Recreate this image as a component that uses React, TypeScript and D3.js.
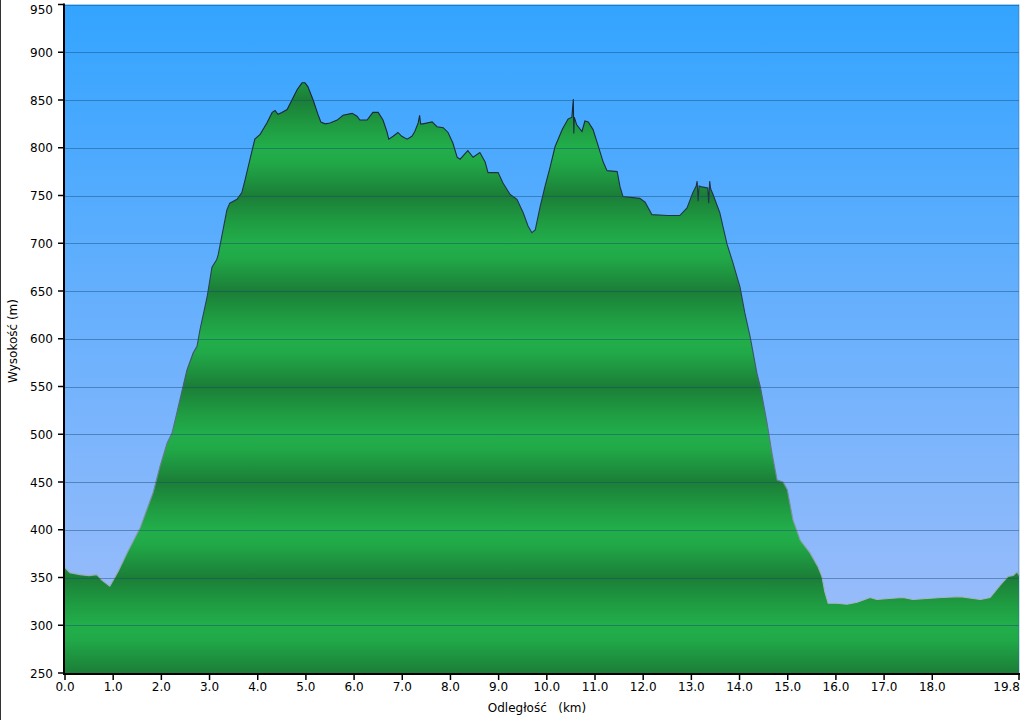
import React from "react";
import * as d3 from "d3";

// distance (km) and elevation (m) read from the profile
const distanceKm = [
  0.0, 0.1, 0.31, 0.5, 0.66, 0.77, 0.93, 1.1, 1.29, 1.56, 1.83, 1.97, 2.12, 2.22, 2.32, 2.45, 2.53,
  2.66, 2.74, 2.8, 2.95, 3.05, 3.15, 3.18, 3.28, 3.36, 3.42, 3.57, 3.67, 3.74, 3.84, 3.94, 4.05,
  4.19, 4.3, 4.36, 4.42, 4.5, 4.61, 4.71, 4.82, 4.92, 4.98, 5.04, 5.15, 5.25, 5.31, 5.4, 5.5,
  5.65, 5.77, 5.96, 6.06, 6.12, 6.27, 6.39, 6.5, 6.6, 6.68, 6.72, 6.81, 6.91, 6.99, 7.1, 7.2,
  7.26, 7.33, 7.36, 7.38, 7.43, 7.62, 7.72, 7.85, 7.95, 8.05, 8.14, 8.2, 8.36, 8.47, 8.61, 8.72,
  8.78, 8.99, 9.09, 9.24, 9.38, 9.51, 9.61, 9.69, 9.76, 9.86, 9.96, 10.07, 10.17, 10.32, 10.44,
  10.52, 10.55, 10.56, 10.57, 10.62, 10.73, 10.79, 10.86, 10.96, 11.06, 11.17, 11.25, 11.46,
  11.52, 11.58, 11.93, 12.04, 12.18, 12.5, 12.76, 12.91, 13.03, 13.1, 13.12, 13.14, 13.16, 13.22,
  13.34, 13.36, 13.38, 13.4, 13.45, 13.59, 13.74, 13.86, 14.01, 14.11, 14.22, 14.36, 14.43,
  14.57, 14.67, 14.78, 14.9, 14.99, 15.11, 15.26, 15.46, 15.63, 15.71, 15.77, 15.84, 16.02,
  16.23, 16.44, 16.71, 16.85, 17.1, 17.39, 17.6, 17.89, 18.2, 18.58, 18.85, 19.0, 19.2, 19.41,
  19.57, 19.68, 19.76, 19.8,
];
const elevationM = [
  360, 355, 353, 352, 353, 347, 341, 356, 376, 402, 439, 466, 491, 501, 522, 550, 567,
  585, 592, 609, 644, 675, 683, 688, 714, 735, 742, 746, 753, 767, 788, 809, 814,
  826, 837, 839, 835, 837, 840, 850, 861, 868, 868, 864, 850, 835, 827, 825, 826,
  829, 834, 836, 833, 829, 829, 837, 837, 829, 817, 809, 812, 816, 812, 809, 812,
  817, 826, 834, 825, 825, 827, 822, 821, 816, 805, 790, 788, 797, 790, 795, 785,
  774, 774, 763, 751, 746, 732, 718, 711, 714, 738, 759, 780, 801, 819, 830,
  832, 851, 815, 832, 824, 817, 828, 827, 819, 803, 785, 776, 775,
  759, 749, 747, 743, 730, 729, 729, 737, 753, 760, 765, 744, 760, 759,
  758, 742, 765, 757, 751, 732, 699, 680, 654, 627, 602, 564, 550,
  512, 481, 452, 450, 442, 410, 389, 376, 361, 351, 335, 323, 323,
  322, 324, 329, 327, 328, 329, 327, 328, 329, 330, 328, 327, 329, 342,
  351, 352, 356, 352,
];

const yTicks = [250, 300, 350, 400, 450, 500, 550, 600, 650, 700, 750, 800, 850, 900, 950];
const xTicks = [0, 1, 2, 3, 4, 5, 6, 7, 8, 9, 10, 11, 12, 13, 14, 15, 16, 17, 18, 19.8];

const W = 1024;
const H = 720;
const left = 65;
const right = 1019;
const top = 4.5;
const bottom = 673;

export default function App() {
  const x = d3.scaleLinear().domain([0, 19.8]).range([left, right]);
  const y = d3.scaleLinear().domain([250, 950]).range([bottom, top]);
  const data = distanceKm.map((d, i) => ({ d, e: elevationM[i] }));

  const area = d3
    .area<{ d: number; e: number }>()
    .x((p) => x(p.d))
    .y0(y(250))
    .y1((p) => y(p.e));
  const line = d3
    .line<{ d: number; e: number }>()
    .x((p) => x(p.d))
    .y((p) => y(p.e));

  const font = "'DejaVu Sans', Verdana, sans-serif";
  const lastX = xTicks[xTicks.length - 1];

  return (
    <svg
      width={W}
      height={H}
      style={{ position: "absolute", left: 0, top: 0, background: "#fff" }}
      fontFamily={font}
    >
      <defs>
        <linearGradient id="sky" gradientUnits="userSpaceOnUse" x1="0" y1={top} x2="0" y2={bottom}>
          <stop offset="0" stopColor="#33a4ff" />
          <stop offset="0.5" stopColor="#6cb1fd" />
          <stop offset="1" stopColor="#a2befa" />
        </linearGradient>
        <linearGradient
          id="hill"
          gradientUnits="userSpaceOnUse"
          x1="0"
          y1={y(800)}
          x2="0"
          y2={y(700)}
          spreadMethod="repeat"
        >
          <stop offset="0" stopColor="#22ae4b" />
          <stop offset="0.15" stopColor="#21a948" />
          <stop offset="0.5" stopColor="#1b7e37" />
          <stop offset="0.78" stopColor="#1f9c42" />
          <stop offset="1" stopColor="#22ae4b" />
        </linearGradient>
        <linearGradient id="edge" gradientUnits="userSpaceOnUse" x1="0" y1={80} x2="0" y2={610}>
          <stop offset="0" stopColor="#152436" />
          <stop offset="0.45" stopColor="#2a4658" />
          <stop offset="1" stopColor="#a9b9c6" />
        </linearGradient>
      </defs>

      <line x1={0.5} y1={0} x2={0.5} y2={H} stroke="#333" strokeWidth={1} />

      <rect x={left} y={top} width={right - left} height={bottom - top} fill="url(#sky)" />
      <path d={area(data) ?? ""} fill="url(#hill)" />
      <path d={line(data) ?? ""} fill="none" stroke="url(#edge)" strokeWidth={1.1} />

      {yTicks.slice(1).map((t) => (
        <line
          key={"g" + t}
          x1={left}
          x2={right}
          y1={Math.round(y(t)) + 0.5}
          y2={Math.round(y(t)) + 0.5}
          stroke="#174a6e"
          strokeOpacity={0.45}
          strokeWidth={1}
        />
      ))}
      <line x1={right} x2={right} y1={top} y2={bottom} stroke="#2a6aa0" strokeOpacity={0.5} />

      {/* axes */}
      <line x1={left - 1} x2={left - 1} y1={top - 1} y2={bottom + 1} stroke="#000" strokeWidth={2} />
      <line x1={left - 2} x2={right + 1} y1={bottom + 1} y2={bottom + 1} stroke="#000" strokeWidth={2} />

      {yTicks.map((t) => (
        <g key={"y" + t}>
          <line x1={left - 7} x2={left - 1} y1={y(t)} y2={y(t)} stroke="#000" strokeWidth={1.5} />
          <text
            x={53}
            y={Math.max(y(t) + 4.5, 13.5)}
            textAnchor="end"
            fontSize={12}
            fill="#000"
          >
            {t}
          </text>
        </g>
      ))}
      {xTicks.map((t) => (
        <g key={"x" + t}>
          <line x1={x(t)} x2={x(t)} y1={bottom} y2={bottom + 7} stroke="#000" strokeWidth={1.5} />
          <text
            x={t === lastX ? x(t) + 1 : x(t)}
            y={691}
            textAnchor={t === lastX ? "end" : "middle"}
            fontSize={12}
            fill="#000"
          >
            {t.toFixed(1)}
          </text>
        </g>
      ))}

      <text x={537} y={712} textAnchor="middle" fontSize={12} fill="#000" style={{ whiteSpace: "pre" }}>
        {"Odległość   (km)"}
      </text>
      <text
        transform="translate(17,341) rotate(-90)"
        textAnchor="middle"
        fontSize={12}
        fill="#000"
      >
        Wysokość (m)
      </text>
    </svg>
  );
}
